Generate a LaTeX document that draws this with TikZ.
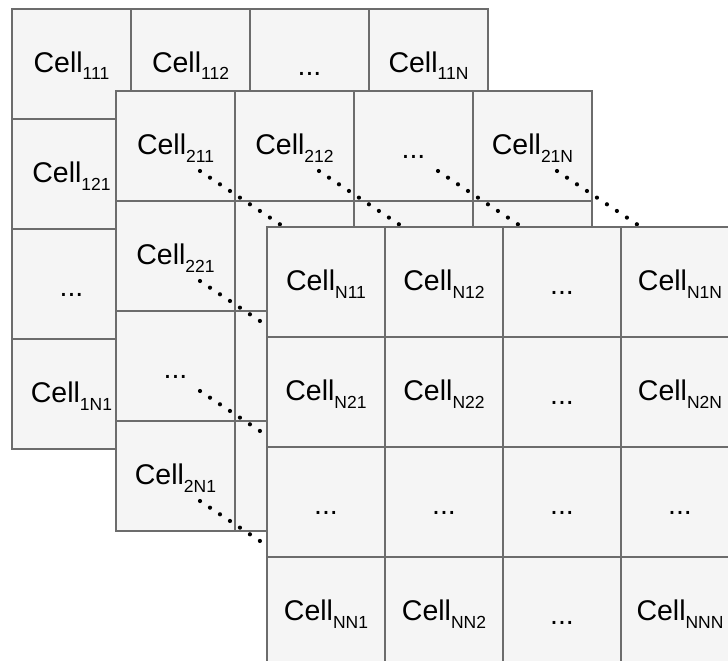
\documentclass[tikz,border=0pt]{standalone}
\usepackage{fontspec}
\setmainfont{Liberation Sans}
\definecolor{cellfill}{HTML}{F5F5F5}
\definecolor{cellline}{HTML}{6C6C6C}
\newcommand{\mysub}[1]{\raisebox{-8pt}{\fontsize{17.5}{18}\selectfont #1}}
\begin{document}
\begin{tikzpicture}[x=1pt,y=-1pt,
  cellbox/.style={draw=cellline, fill=cellfill, line width=2pt,
    minimum height=110pt, inner sep=0pt, anchor=north west,
    font=\fontsize{28.5}{30}\selectfont, text height=20pt, text depth=4pt},
  cellA/.style={cellbox, minimum width=119pt},
  cellB/.style={cellbox, minimum width=118pt},
  dotsbox/.style={text height=24pt, text depth=0pt},
  dotline/.style={line width=4.2pt, line cap=round, dash pattern=on 0pt off 12pt, black}]
\useasboundingbox (0,0) rectangle (728,661);
\clip (0,0) rectangle (728,661);
% ---- layer 1
\node[cellA] (a11) at (11,8) {Cell\mysub{111}};
\node[cellA] (a12) at (130,8) {Cell\mysub{112}};
\node[cellA,dotsbox] (a13) at (249,8) {...};
\node[cellA] (a14) at (368,8) {Cell\mysub{11N}};
\node[cellA] (a21) at (11,118) {Cell\mysub{121}};
\node[cellA] (a22) at (130,118) {};
\node[cellA] (a23) at (249,118) {};
\node[cellA] (a24) at (368,118) {};
\node[cellA,dotsbox] (a31) at (11,228) {...};
\node[cellA] (a32) at (130,228) {};
\node[cellA] (a33) at (249,228) {};
\node[cellA] (a34) at (368,228) {};
\node[cellA] (a41) at (11,338) {Cell\mysub{1N1}};
\node[cellA] (a42) at (130,338) {};
\node[cellA] (a43) at (249,338) {};
\node[cellA] (a44) at (368,338) {};
% ---- layer 2
\node[cellA] (b11) at (115,90) {Cell\mysub{211}};
\node[cellA] (b12) at (234,90) {Cell\mysub{212}};
\node[cellA,dotsbox] (b13) at (353,90) {...};
\node[cellA] (b14) at (472,90) {Cell\mysub{21N}};
\node[cellA] (b21) at (115,200) {Cell\mysub{221}};
\node[cellA] (b22) at (234,200) {};
\node[cellA] (b23) at (353,200) {};
\node[cellA] (b24) at (472,200) {};
\node[cellA,dotsbox] (b31) at (115,310) {...};
\node[cellA] (b32) at (234,310) {};
\node[cellA] (b33) at (353,310) {};
\node[cellA] (b34) at (472,310) {};
\node[cellA] (b41) at (115,420) {Cell\mysub{2N1}};
\node[cellA] (b42) at (234,420) {};
\node[cellA] (b43) at (353,420) {};
\node[cellA] (b44) at (472,420) {};
% ---- dotted connectors (pass under layer 3)
\foreach \n in {b11,b12,b13,b14,b21,b31,b41}
  \draw[dotline] ([shift={(85,81)}]\n.north west) -- ++(108,72);
% ---- layer 3
\node[cellB] (c11) at (266,226) {Cell\mysub{N11}};
\node[cellB] (c12) at (384,226) {Cell\mysub{N12}};
\node[cellB,dotsbox] (c13) at (502,226) {...};
\node[cellB] (c14) at (620,226) {Cell\mysub{N1N}};
\node[cellB] (c21) at (266,336) {Cell\mysub{N21}};
\node[cellB] (c22) at (384,336) {Cell\mysub{N22}};
\node[cellB,dotsbox] (c23) at (502,336) {...};
\node[cellB] (c24) at (620,336) {Cell\mysub{N2N}};
\node[cellB,dotsbox] (c31) at (266,446) {...};
\node[cellB,dotsbox] (c32) at (384,446) {...};
\node[cellB,dotsbox] (c33) at (502,446) {...};
\node[cellB,dotsbox] (c34) at (620,446) {...};
\node[cellB] (c41) at (266,556) {Cell\mysub{NN1}};
\node[cellB] (c42) at (384,556) {Cell\mysub{NN2}};
\node[cellB,dotsbox] (c43) at (502,556) {...};
\node[cellB] (c44) at (620,556) {Cell\mysub{NNN}};
\end{tikzpicture}
\end{document}
